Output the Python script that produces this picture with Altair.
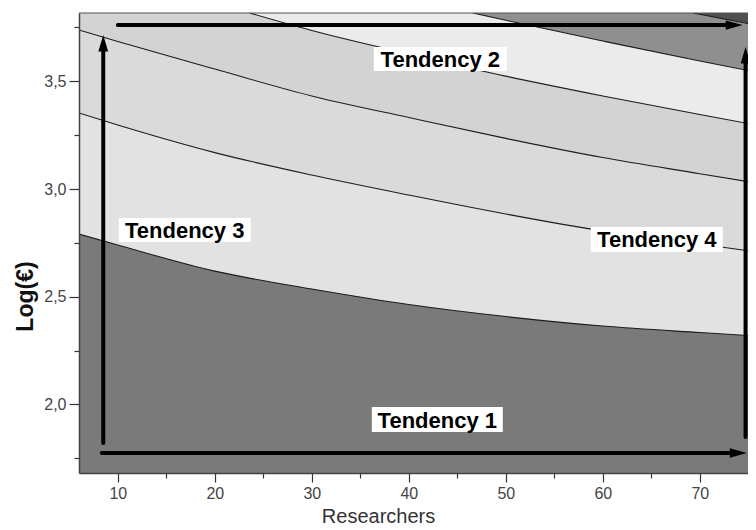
import altair as alt
import pandas as pd

# ---------------- data ----------------
x_domain = [6.0, 74.97]
y_domain = [1.682, 3.817]
y_top = y_domain[1]

x_ticks = [10, 15, 20, 25, 30, 35, 40, 45, 50, 55, 60, 65, 70]
y_ticks = [1.75, 2.0, 2.25, 2.5, 2.75, 3.0, 3.25, 3.5, 3.75]

# contour lines (Researchers, Log(€))
grid_x = [6.0, 10, 20, 30, 40, 50, 60, 70, 75.8]
c1_y = [2.791, 2.740, 2.619, 2.536, 2.464, 2.408, 2.364, 2.334, 2.318]
c2_y = [3.353, 3.297, 3.169, 3.065, 2.972, 2.884, 2.805, 2.745, 2.708]
c3_y = [3.738, 3.685, 3.557, 3.432, 3.332, 3.235, 3.146, 3.071, 3.028]
c4_x = [23.6, 30, 40, 50, 60, 70, 75.8]
c4_y = [3.817, 3.736, 3.627, 3.524, 3.432, 3.346, 3.297]
c5_x = [46.6, 50, 60, 70, 75.8]
c5_y = [3.817, 3.783, 3.687, 3.594, 3.543]
c6_x = [69.3, 75.8]
c6_y = [3.817, 3.761]

contours = [
    (grid_x, c1_y, "#e2e2e2"),
    (grid_x, c2_y, "#dadada"),
    (grid_x, c3_y, "#d3d3d3"),
    (c4_x, c4_y, "#ebebeb"),
    (c5_x, c5_y, "#8f8f8f"),
    (c6_x, c6_y, "#505050"),
]
base_color = "#7a7a7a"

# arrows
h_arrow_x1 = [10.0, 8.35]
h_arrow_x2 = [74.43, 74.85]
h_arrow_y = [3.761, 1.775]
v_arrow_x = [8.5, 74.72]
v_arrow_y1 = [1.821, 1.849]
v_arrow_y2 = [3.715, 3.659]

# labels
label_text = ["Tendency 1", "Tendency 2", "Tendency 3", "Tendency 4"]
label_x = [42.94, 43.25, 16.9, 65.57]
label_y = [1.930, 3.603, 2.81, 2.766]
box_x1 = [36.19, 36.39, 10.10, 58.76]
box_x2 = [49.69, 50.10, 23.71, 72.37]
box_y1 = [1.872, 3.548, 2.754, 2.708]
box_y2 = [1.988, 3.659, 2.865, 2.824]

# ---------------- encodings ----------------
FONT = "Liberation Sans"
PLOT_W, PLOT_H = 669, 460
xs = alt.Scale(domain=x_domain, nice=False, zero=False)
ys = alt.Scale(domain=y_domain, nice=False, zero=False)

x_axis = alt.Axis(
    values=x_ticks,
    labelExpr="datum.value % 10 === 0 ? datum.label : ''",
    tickSize={"condition": {"test": "datum.value % 10 === 0", "value": 9}, "value": 5},
    title="Researchers", titleX=299, titleY=49, titleBaseline="alphabetic",
    titleAlign="center", titleFontSize=20, titleFontWeight="normal", titleColor="#333333",
    labelFontSize=16, labelColor="#444444", labelPadding=3, labelFlush=False,
    labelOverlap=False, tickColor="#333333", tickWidth=1.2,
    domainColor="#444444", domainWidth=1.5, grid=False, zindex=1,
)
y_axis = alt.Axis(
    values=y_ticks,
    labelExpr="datum.value % 0.5 === 0 ? replace(format(datum.value, '.1f'), '.', ',') : ''",
    tickSize={"condition": {"test": "datum.value % 0.5 === 0", "value": 10}, "value": 5},
    title="Log(€)", titleX=-54, titleY=283, titleAngle=270, titleBaseline="middle",
    titleAlign="center", titleFontSize=23, titleFontWeight="bold", titleColor="#111111",
    labelFontSize=16, labelColor="#444444", labelPadding=3, labelFlush=False,
    labelOverlap=False, tickColor="#333333", tickWidth=1.2,
    domainColor="#444444", domainWidth=1.5, grid=False, zindex=1,
)

X = alt.X("x:Q", scale=xs, axis=x_axis)
Y = alt.Y("y:Q", scale=ys, axis=y_axis)

layers = []
for cx, cy, col in contours:
    df = pd.DataFrame({"x": cx, "y": cy})
    layers.append(
        alt.Chart(df).mark_area(color=col, interpolate="monotone", clip=True, opacity=1)
        .encode(x=X, y=Y, y2=alt.datum(y_top))
    )
for cx, cy, col in contours:
    df = pd.DataFrame({"x": cx, "y": cy})
    layers.append(
        alt.Chart(df).mark_line(color="#1c1c1c", strokeWidth=1.1, interpolate="monotone", clip=True)
        .encode(x=X, y=Y)
    )

# frame top
layers.append(alt.Chart().mark_rule(color="#555555", strokeWidth=1.2).encode(y=alt.datum(y_top)))

# arrows: shafts end a little before the tip, the head covers the rest
px_per_x = PLOT_W / (x_domain[1] - x_domain[0])
px_per_y = PLOT_H / (y_domain[1] - y_domain[0])
h_df = pd.DataFrame({
    "x": h_arrow_x1,
    "x2": [t - 11 / px_per_x for t in h_arrow_x2],
    "y": h_arrow_y,
})
v_df = pd.DataFrame({
    "x": v_arrow_x,
    "y": v_arrow_y1,
    "y2": [t - 11 / px_per_y for t in v_arrow_y2],
})
layers.append(
    alt.Chart(h_df).mark_rule(color="black", strokeWidth=4, strokeCap="round")
    .encode(x=X, x2=alt.X2("x2:Q"), y=Y)
)
layers.append(
    alt.Chart(v_df).mark_rule(color="black", strokeWidth=4, strokeCap="round")
    .encode(x=X, y=Y, y2=alt.Y2("y2:Q"))
)
h_head = pd.DataFrame({"x": h_arrow_x2, "y": h_arrow_y})
v_head = pd.DataFrame({"x": v_arrow_x, "y": v_arrow_y2})
layers.append(
    alt.Chart(h_head).mark_point(shape="M0,0L-2,-0.55L-2,0.55Z", filled=True, color="black",
                                 size=290, opacity=1, strokeWidth=0)
    .encode(x=X, y=Y)
)
layers.append(
    alt.Chart(v_head).mark_point(shape="M0,0L-0.6,2L0.6,2Z", filled=True, color="black",
                                 size=270, opacity=1, strokeWidth=0)
    .encode(x=X, y=Y)
)

# labels with white boxes
box_df = pd.DataFrame({"x": box_x1, "x2": box_x2, "y": box_y1, "y2": box_y2})
layers.append(
    alt.Chart(box_df).mark_rect(color="white", opacity=1)
    .encode(x=X, x2=alt.X2("x2:Q"), y=Y, y2=alt.Y2("y2:Q"))
)
lab_df = pd.DataFrame({"x": label_x, "y": label_y, "t": label_text})
layers.append(
    alt.Chart(lab_df).mark_text(font=FONT, fontWeight="bold", fontSize=22, color="black",
                                align="center", baseline="middle", dy=1)
    .encode(x=X, y=Y, text="t:N")
)

chart = (
    alt.layer(*layers)
    .properties(
        width=PLOT_W, height=PLOT_H,
        padding={"left": 71, "top": 5, "right": 0, "bottom": 54},
        autosize=alt.AutoSizeParams(type="none"),
    )
    .configure(font=FONT)
    .configure_view(fill=base_color, stroke=None)
)

chart.save("out.html", embed_options={"renderer": "svg", "actions": False})
